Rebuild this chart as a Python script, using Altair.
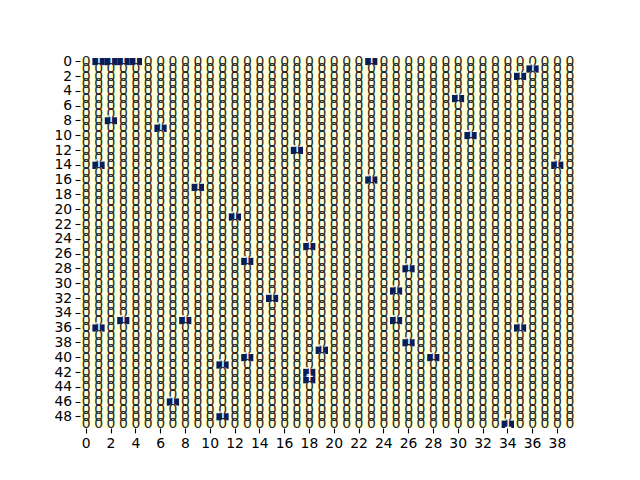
import altair as alt
import pandas as pd

n_rows = 50
n_cols = 40
one_rows = [0, 0, 0, 0, 0, 1, 2, 5, 8, 9, 10, 12, 14, 14, 16, 17, 21, 25, 27, 28,
            31, 32, 35, 35, 35, 36, 36, 38, 39, 40, 40, 41, 42, 43, 46, 48, 49]
one_cols = [1, 2, 3, 4, 23, 36, 35, 30, 2, 6, 31, 17, 1, 38, 23, 9, 12, 18, 13, 26,
            25, 15, 3, 8, 25, 1, 35, 26, 19, 13, 28, 11, 18, 18, 7, 11, 34]
x_tick_values = list(range(0, 40, 2))
y_tick_values = list(range(0, 50, 2))

ones = set(zip(one_rows, one_cols))
records = []
for r in range(n_rows):
    for c in range(n_cols):
        records.append({"row": r, "col": c, "value": 1 if (r, c) in ones else 0})
df = pd.DataFrame(records)

base = alt.Chart(df).encode(
    x=alt.X("col:O", scale=alt.Scale(paddingInner=0, paddingOuter=0),
            axis=alt.Axis(values=x_tick_values, labelAngle=0, title=None, domain=False)),
    y=alt.Y("row:O", scale=alt.Scale(paddingInner=0, paddingOuter=0),
            axis=alt.Axis(values=y_tick_values, labelAngle=0, title=None, domain=False)),
)

rect = base.mark_rect().encode(
    color=alt.Color("value:Q", scale=alt.Scale(domain=[0, 1], range=["#ffffd9", "#081d58"]), legend=None)
)

text = base.mark_text(font="DejaVu Sans", fontSize=13.9, baseline="middle", align="center").encode(
    text=alt.Text("value:N"),
    color=alt.condition(alt.datum.value > 0.5, alt.value("white"), alt.value("#262626")),
)

chart = alt.layer(rect, text).properties(
    width=496, height=370, autosize="none",
    padding={"left": 80, "top": 58, "right": 64, "bottom": 52},
    background="white",
).configure_view(stroke=None).configure_axis(
    labelFont="DejaVu Sans", labelFontSize=13.9, labelColor="black",
    tickColor="black", tickSize=4.9, tickWidth=1.1, labelPadding=3.5, grid=False,
)

chart.save("out.html", embed_options={"renderer": "svg", "actions": False})
